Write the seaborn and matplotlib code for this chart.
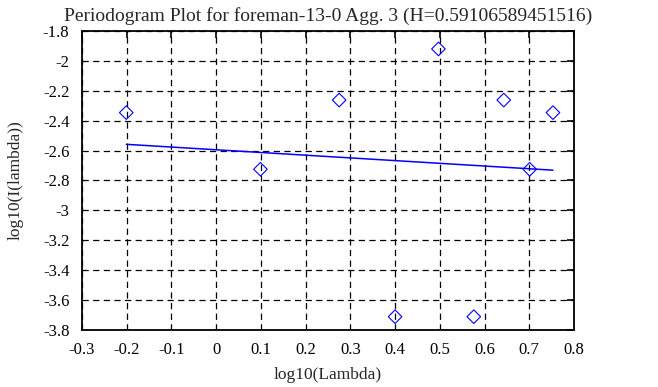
import numpy as np
import pandas as pd
import matplotlib
matplotlib.use('Agg')
import matplotlib.pyplot as plt
import seaborn as sns

TITLE = 'Periodogram Plot for foreman-13-0 Agg. 3 (H=0.59106589451516)'

# periodogram points
log_lambda = [-0.201, 0.099, 0.275, 0.400, 0.497, 0.576, 0.643, 0.701, 0.753]
log_I = [-2.346, -2.725, -2.262, -3.711, -1.920, -3.711, -2.262, -2.725, -2.346]

# fitted line ends
fit_x = [-0.201, 0.753]
fit_y = [-2.558, -2.731]

x_ticks = [-0.3, -0.2, -0.1, 0, 0.1, 0.2, 0.3, 0.4, 0.5, 0.6, 0.7, 0.8]
y_ticks = [-3.8, -3.6, -3.4, -3.2, -3, -2.8, -2.6, -2.4, -2.2, -2, -1.8]


def fmt(v):
    return ('%g' % round(v, 2))


def main():
    sns.set_style('white')
    plt.rcParams['font.family'] = ['Liberation Serif', 'DejaVu Serif']

    pts = pd.DataFrame({'x': log_lambda, 'y': log_I})
    fit = pd.DataFrame({'x': fit_x, 'y': fit_y})

    fig = plt.figure(figsize=(6.58, 3.87), dpi=100)
    ax = fig.add_axes([0.1246, 0.1473, 0.8723 - 0.1246, 0.9199 - 0.1473])

    sns.scatterplot(data=pts, x='x', y='y', ax=ax, marker='D', s=48,
                    facecolor='none', edgecolor='#0000ff', linewidth=0.8, zorder=3)
    sns.lineplot(data=fit, x='x', y='y', ax=ax, color='#0000ff', linewidth=1.1, zorder=2)

    ax.set_xlim(-0.3, 0.8)
    ax.set_ylim(-3.8, -1.8)
    ax.set_xticks(x_ticks)
    ax.set_yticks(y_ticks)
    ax.set_xticklabels([fmt(v) for v in x_ticks])
    ax.set_yticklabels([fmt(v) for v in y_ticks])
    ax.tick_params(direction='in', length=5, width=1.2, labelsize=12,
                   top=True, right=True, colors='black')
    ax.tick_params(axis='x', pad=9)
    ax.tick_params(axis='y', pad=9)
    ax.grid(True, color='black', linestyle=(0, (5, 3.5)), linewidth=0.9)
    for sp in ax.spines.values():
        sp.set_color('black')
        sp.set_linewidth(1.3)

    ax.set_xlabel('log10(Lambda)', fontsize=12.5, labelpad=6)
    ax.set_ylabel('log10(I(lambda))', fontsize=12.5, labelpad=14)
    ax.set_title(TITLE, fontsize=14, pad=7)

    fig.savefig('out.png', dpi=100)


main()
